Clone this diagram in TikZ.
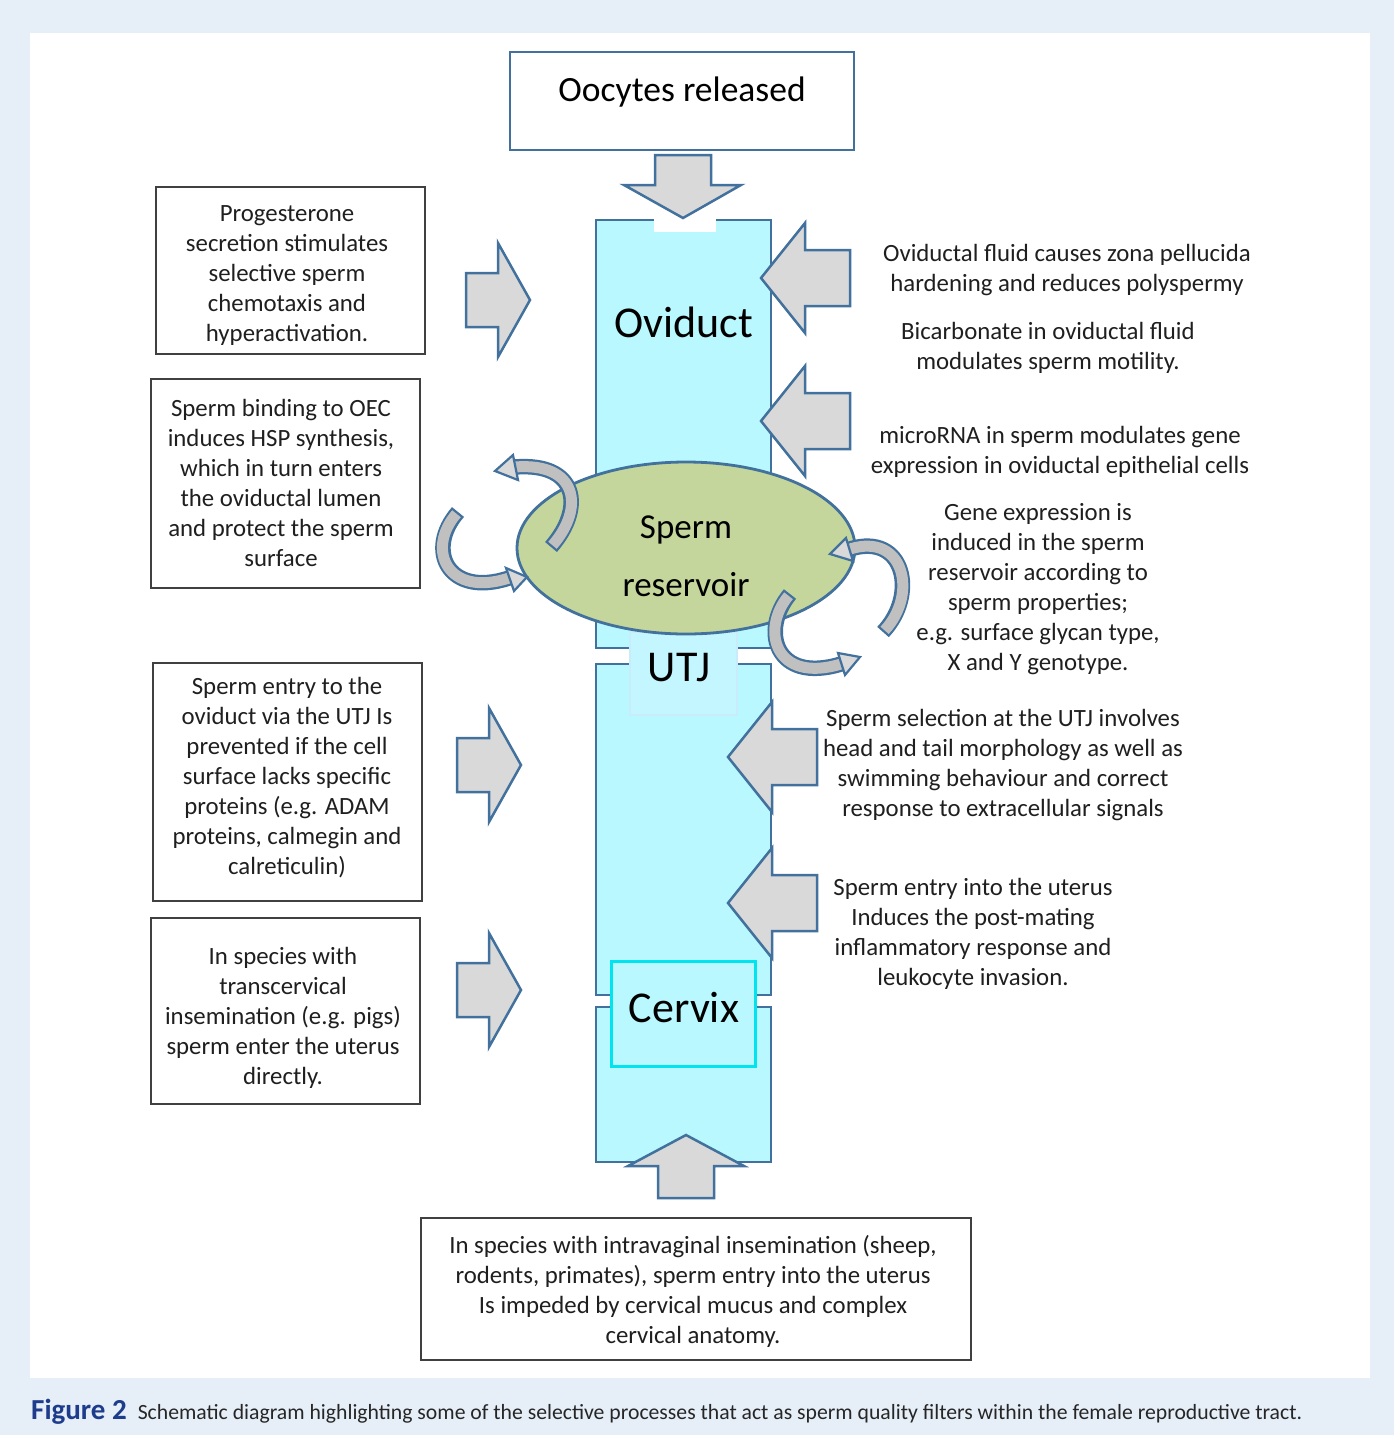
\documentclass[tikz,border=0pt]{standalone}
\usepackage{fontspec}
\setmainfont{Carlito}
\usetikzlibrary{shapes.geometric}
\definecolor{framebg}{RGB}{230,238,248}
\definecolor{edge}{RGB}{65,113,156}
\definecolor{tube}{RGB}{185,248,254}
\definecolor{utjfill}{RGB}{195,246,255}
\definecolor{utjedge}{RGB}{200,236,250}
\definecolor{cyanedge}{RGB}{0,228,240}
\definecolor{resv}{RGB}{196,214,155}
\definecolor{arrowfill}{RGB}{217,217,217}
\definecolor{curvfill}{RGB}{192,192,192}
\definecolor{capblue}{RGB}{30,60,140}
\definecolor{boxline}{RGB}{64,64,64}
\tikzset{
  blockstyle/.style={fill=arrowfill, draw=edge, line width=2.5pt, line join=miter},
  tubeline/.style={draw=edge, line width=2.8pt, line join=miter},
  txtbox/.style={draw=boxline, line width=1.4pt, inner sep=0pt},
  bodytext/.style={align=center, inner sep=0pt, font=\fontsize{24.8}{30}\selectfont, text=black!88},
  rblock/.pic={\filldraw[blockstyle] (-64,-27) -- (-32,-27) -- (-32,-57) -- (0,0) -- (-32,57) -- (-32,27) -- (-64,27) -- cycle;},
  lblock/.pic={\filldraw[blockstyle] (89,-28) -- (44,-28) -- (44,-55) -- (0,0) -- (44,55) -- (44,28) -- (89,28) -- cycle;},
  curvouter/.style={draw=edge, line width=15.5pt, line cap=butt},
  curvinner/.style={draw=curvfill, line width=11pt, line cap=butt, shorten <=2.3pt},
  curvhead/.style={fill=arrowfill, draw=edge, line width=2.2pt, line join=miter},
}
\begin{document}
\begin{tikzpicture}[x=1pt,y=-1pt]
\useasboundingbox (0,0) rectangle (1394,1435);
\fill[framebg] (0,0) rectangle (1394,1435);
\fill[white] (30,33) rectangle (1370,1378);

% tube fills
\fill[tube] (596,220) rectangle (771,648);
\fill[white] (654,217) rectangle (716,232);
\fill[tube] (596,664) rectangle (771,995);
\fill[tube] (596,1007) rectangle (771,1162);

% tube outlines
\draw[tubeline] (654,220) -- (596,220) -- (596,648) -- (630,648);
\draw[tubeline] (716,220) -- (771,220) -- (771,648) -- (737,648);
\draw[tubeline] (630,664) -- (596,664) -- (596,995) -- (611,995);
\draw[tubeline] (737,664) -- (771,664) -- (771,995) -- (755,995);
\draw[tubeline] (611,1007) -- (596,1007) -- (596,1162) -- (771,1162) -- (771,1007) -- (755,1007);

% UTJ and cervix boxes
\node[draw=utjedge, fill=utjfill, line width=1.5pt, minimum width=107, minimum height=83, inner sep=0] (utj) at (683.5,673.5) {};
\node[font=\fontsize{44}{50}\selectfont, inner sep=0] (utjt) at (679,668) {UTJ};
\node[draw=cyanedge, fill=tube, line width=3pt, minimum width=144, minimum height=105, inner sep=0] (cervix) at (683,1013.5) {};
\node[font=\fontsize{44}{50}\selectfont, inner sep=0] (cervixt) at (684,1008) {Cervix};

\node[font=\fontsize{44}{50}\selectfont, inner sep=0] (oviduct) at (684,322) {Oviduct};

% sperm reservoir
\node[ellipse, draw=edge, fill=resv, line width=2.8pt, minimum width=338, minimum height=172, inner sep=0] (res) at (686,548) {};
\node[align=center, inner sep=0, font=\fontsize{35}{58}\selectfont] (rest) at (686,556) {Sperm\\reservoir};

% top box and arrows
\node[draw=edge, line width=2.2pt, minimum width=344, minimum height=98, inner sep=0] (oocyte) at (682,101) {};
\node[font=\fontsize{35.5}{40}\selectfont, inner sep=0] (oocytet) at (682,92) {Oocytes released};
\filldraw[blockstyle] (655,155) -- (711,155) -- (711,185) -- (741,185) -- (683,218) -- (624,185) -- (655,185) -- cycle;
\filldraw[blockstyle] (658,1198) -- (714,1198) -- (714,1166) -- (744,1166) -- (686,1135) -- (628,1166) -- (658,1166) -- cycle;

% left side block arrows
\pic at (530,300) {rblock};
\pic at (521,765) {rblock};
\pic at (521,990) {rblock};
% right side block arrows
\pic at (761,278) {lblock};
\pic at (761,421) {lblock};
\pic at (728,757) {lblock};
\pic at (728,903) {lblock};

% curved arrows around reservoir
\coordinate (c1a) at (551,547);
\coordinate (c1b) at (515,467);
\draw[curvouter] (c1a) .. controls (585,508) and (578,462) .. (c1b);
\draw[curvinner] (c1a) .. controls (585,508) and (578,462) .. (c1b);
\filldraw[curvhead] (513,455) -- (495,471) -- (518,480) -- cycle;

\coordinate (c2a) at (458,512);
\coordinate (c2b) at (509,578);
\draw[curvouter] (c2a) .. controls (425,550) and (448,598) .. (c2b);
\draw[curvinner] (c2a) .. controls (425,550) and (448,598) .. (c2b);
\filldraw[curvhead] (506,568) -- (527,577) -- (514,591) -- cycle;

\coordinate (c3a) at (883,632);
\coordinate (c3b) at (850,549);
\draw[curvouter] (c3a) .. controls (918,595) and (905,532) .. (c3b);
\draw[curvinner] (c3a) .. controls (918,595) and (905,532) .. (c3b);
\filldraw[curvhead] (846,538) -- (830,554) -- (853,561) -- cycle;

\coordinate (c4a) at (790,594);
\coordinate (c4b) at (841,664);
\draw[curvouter] (c4a) .. controls (760,630) and (775,684) .. (c4b);
\draw[curvinner] (c4a) .. controls (760,630) and (775,684) .. (c4b);
\filldraw[curvhead] (838,653) -- (860,657) -- (845,675) -- cycle;

% left boxes
\node[txtbox, minimum width=269, minimum height=167] (b1) at (290.5,270.5) {};
\node[bodytext] (t1) at (287,276) {Progesterone\\secretion stimulates\\selective sperm\\chemotaxis and\\hyperactivation.};
\node[txtbox, minimum width=269, minimum height=209] (b2) at (285.5,483.5) {};
\node[bodytext] (t2) at (281,483) {Sperm binding to OEC\\induces HSP synthesis,\\which in turn enters\\the oviductal lumen\\and protect the sperm\\surface};
\node[txtbox, minimum width=269, minimum height=238] (b3) at (287.5,782) {};
\node[bodytext] (t3) at (287,778) {Sperm entry to the\\oviduct via the UTJ Is\\prevented if the cell\\surface lacks specific\\proteins (e.g. ADAM\\proteins, calmegin and\\calreticulin)};
\node[txtbox, minimum width=269, minimum height=186] (b4) at (285.5,1011) {};
\node[bodytext] (t4) at (283,1018) {In species with\\transcervical\\insemination (e.g. pigs)\\sperm enter the uterus\\directly.};
\node[txtbox, minimum width=550, minimum height=142] (b5) at (696,1289) {};
\node[bodytext] (t5) at (693,1291) {In species with intravaginal insemination (sheep,\\rodents, primates), sperm entry into the uterus\\Is impeded by cervical mucus and complex\\cervical anatomy.};

% right texts
\node[bodytext] (r1) at (1067,270) {Oviductal fluid causes zona pellucida\\hardening and reduces polyspermy};
\node[bodytext] (r2) at (1048,348) {Bicarbonate in oviductal fluid\\modulates sperm motility.};
\node[bodytext] (r3) at (1060,452) {microRNA in sperm modulates gene\\expression in oviductal epithelial cells};
\node[bodytext] (r4) at (1038,589) {Gene expression is\\induced in the sperm\\reservoir according to\\sperm properties;\\e.g. surface glycan type,\\X and Y genotype.};
\node[bodytext] (r5) at (1003,765) {Sperm selection at the UTJ involves\\head and tail morphology as well as\\swimming behaviour and correct\\response to extracellular signals};
\node[bodytext] (r6) at (973,934) {Sperm entry into the uterus\\Induces the post-mating\\inflammatory response and\\leukocyte invasion.};

% caption
\node[anchor=base west, inner sep=0] (cap) at (31,1419) {\fontsize{29}{32}\selectfont\bfseries\color{capblue}Figure 2\hspace{11pt}\mdseries\color{black!85}\fontsize{21.7}{26}\selectfont Schematic diagram highlighting some of the selective processes that act as sperm quality filters within the female reproductive tract.};
\end{tikzpicture}
\end{document}
